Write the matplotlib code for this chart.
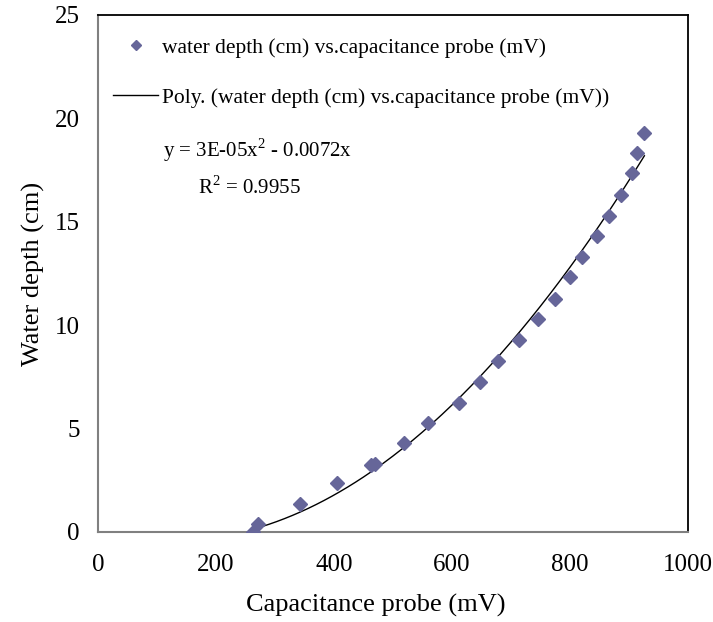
import numpy as np
import matplotlib
matplotlib.use("Agg")
from matplotlib import pyplot as plt

plt.rcParams["font.family"] = ["Liberation Serif", "DejaVu Serif"]
plt.rcParams["mathtext.fontset"] = "custom"
plt.rcParams["mathtext.rm"] = "Liberation Serif"

# capacitance probe readings (mV) and water depth (cm)
probe_mv = [263, 271, 342, 405, 463, 469, 519, 559, 612, 647, 678, 713,
            745, 774, 800, 821, 845, 866, 886, 905, 914, 926]
depth_cm = [0.0, 0.37, 1.34, 2.35, 3.25, 3.28, 4.29, 5.29, 6.25, 7.27, 8.28,
            9.27, 10.29, 11.28, 12.32, 13.31, 14.31, 15.30, 16.30, 17.35,
            18.31, 19.31]

x_ticks = [0, 200, 400, 600, 800, 1000]
y_ticks = [0, 5, 10, 15, 20, 25]

x = np.array(probe_mv, dtype=float)
y = np.array(depth_cm, dtype=float)

# polynomial trendline through the origin: y = a x^2 + b x
A = np.column_stack([x ** 2, x])
coef, *_ = np.linalg.lstsq(A, y, rcond=None)
xs = np.linspace(x.min(), x.max(), 200)
ys = coef[0] * xs ** 2 + coef[1] * xs

fig = plt.figure(figsize=(7.13, 6.22), dpi=100)
ax = fig.add_axes([0.1375, 0.1447, 0.8275, 0.8313])

pts, = ax.plot(x, y, linestyle="none", marker="D", markersize=7.3,
               color="#666699", zorder=3,
               label="water depth (cm) vs.capacitance probe (mV)")
fit, = ax.plot(xs, ys, color="black", linewidth=1.0, zorder=2,
               label="Poly. (water depth (cm) vs.capacitance probe (mV))")

ax.set_xlim(0, 1000)
ax.set_ylim(0, 25)
ax.set_xticks(x_ticks)
ax.set_yticks(y_ticks)
ax.tick_params(length=0, labelsize=18)
ax.tick_params(axis="x", pad=16)
ax.tick_params(axis="y", pad=13)

ax.spines["left"].set_color("#808080")
ax.spines["bottom"].set_color("#808080")
ax.spines["left"].set_linewidth(1.5)
ax.spines["bottom"].set_linewidth(1.5)
ax.spines["top"].set_linewidth(1.3)
ax.spines["right"].set_linewidth(1.3)

ax.set_xlabel("Capacitance probe (mV)", fontsize=19)
ax.set_ylabel("Water depth (cm)", fontsize=19)
ax.xaxis.set_label_coords(0.47, -0.12)
ax.yaxis.set_label_coords(-0.09, 0.5)

leg = ax.legend(handles=[pts, fit], loc="upper left",
                bbox_to_anchor=(-0.013, 1.0), frameon=False, fontsize=15.5,
                handlelength=2.1, handletextpad=0.2, labelspacing=1.4,
                markerscale=0.65, borderpad=0.55)

ax.text(0.11, 0.739, "y = 3E-05x$^{2}$ - 0.0072x", transform=ax.transAxes,
        fontsize=15, ha="left", va="center")
ax.text(0.17, 0.667, "R$^{2}$ = 0.9955", transform=ax.transAxes,
        fontsize=15, ha="left", va="center")

plt.savefig("out.png", dpi=100)
